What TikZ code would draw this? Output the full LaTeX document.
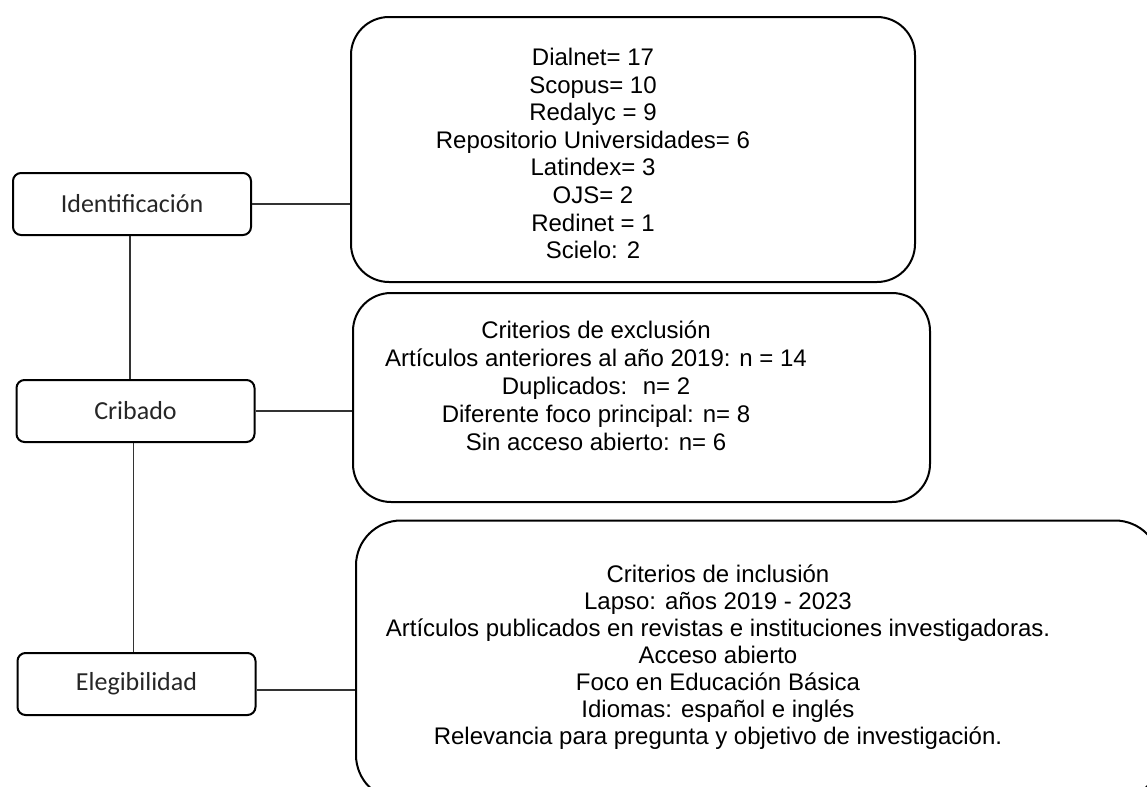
\documentclass[tikz,border=0pt]{standalone}
\usepackage{fontspec}
\setmainfont{Liberation Sans}
\newfontfamily\carlito{Carlito}
\usetikzlibrary{positioning}

\tikzset{
  etapa/.style={draw, line width=1pt, rounded corners=4pt,
    minimum width=119pt, minimum height=31pt, inner sep=0pt,
    font=\carlito\fontsize{13}{15}\selectfont, text=black!85},
  caja/.style={draw, line width=1pt, inner sep=0pt},
  lista/.style={align=center, inner sep=0pt},
  enlace/.style={line width=0.6pt, black!80}
}

\begin{document}
\begin{tikzpicture}[x=0.5pt, y=-0.5pt]
    \useasboundingbox (0,0) rectangle (1147,787);
    \clip (0,0) rectangle (1147,787);

    % Etapas
    \node[etapa] (ident) at (132,204) {Identificación};
    \node[etapa] (crib) at (135.5,411) {Cribado};
    \node[etapa] (eleg) at (136.5,684) {Elegibilidad};

    % Cajas
    \node[caja, rounded corners=19pt, minimum width=282pt, minimum height=132.5pt] (src) at (633,149.5) {};
    \node[caja, rounded corners=19pt, minimum width=288.5pt, minimum height=104.5pt] (excl) at (641.5,397.5) {};
    \node[caja, rounded corners=22.5pt, minimum width=402pt, minimum height=139.75pt] (incl) at (758,660.25) {};

    % Textos
    \node[lista, font=\fontsize{12}{13.8}\selectfont] (srctxt) at (593,153.5)
      {Dialnet= 17\\Scopus= 10\\Redalyc = 9\\Repositorio Universidades= 6\\Latindex= 3\\OJS= 2\\Redinet = 1\\Scielo: 2};
    \node[lista, font=\fontsize{12}{14}\selectfont] (excltxt) at (596,386)
      {Criterios de exclusión\\Artículos anteriores al año 2019: n = 14\\Duplicados:~ n= 2\\Diferente foco principal: n= 8\\Sin acceso abierto: n= 6};
    \node[lista, font=\fontsize{12}{13.5}\selectfont] (incltxt) at (718,657)
      {Criterios de inclusión\\Lapso: años 2019 - 2023\\Artículos publicados en revistas e instituciones investigadoras.\\Acceso abierto\\Foco en Educación Básica\\Idiomas: español e inglés\\Relevancia para pregunta y objetivo de investigación.};

    % Conexiones
    \draw[enlace] ([xshift=-1pt]ident.south) -- ([xshift=-1pt]ident.south |- crib.north);
    \draw[enlace] ([xshift=-1pt]crib.south) -- ([xshift=-1pt]crib.south |- eleg.north);
    \draw[enlace] (ident.east) -- (ident.east -| src.west);
    \draw[enlace] (crib.east) -- (crib.east -| excl.west);
    \draw[enlace] ([yshift=-3pt]eleg.east) -- ([yshift=-3pt]eleg.east -| incl.west);
\end{tikzpicture}
\end{document}
